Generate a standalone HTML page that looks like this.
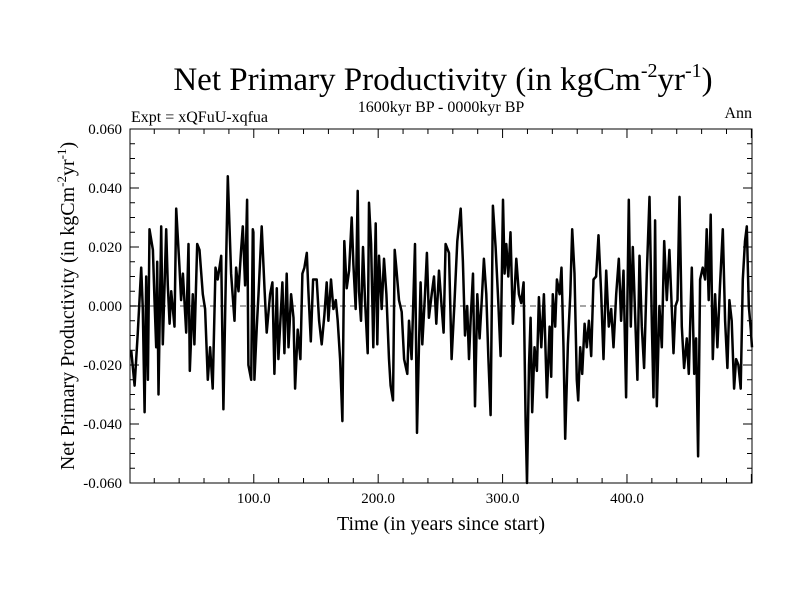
<!DOCTYPE html>
<html><head><meta charset="utf-8">
<style>
html,body{margin:0;padding:0;background:#fff;}
svg{display:block;font-family:"Liberation Serif",serif;}
</style></head>
<body>
<svg id="chart" width="800" height="600" viewBox="0 0 800 600" xmlns="http://www.w3.org/2000/svg">
  <rect width="800" height="600" fill="#fff"/>
  <text x="443" y="90" font-size="33" text-anchor="middle">Net Primary Productivity (in kgCm<tspan font-size="20" dy="-13">-2</tspan><tspan dy="13">yr</tspan><tspan font-size="20" dy="-13">-1</tspan><tspan dy="13">)</tspan></text>
  <text x="131" y="122" font-size="16">Expt = xQFuU-xqfua</text>
  <text x="441" y="112" font-size="16" text-anchor="middle">1600kyr BP - 0000kyr BP</text>
  <text x="752" y="118" font-size="16" text-anchor="end">Ann</text>
  <text transform="translate(74,306) rotate(-90)" font-size="20" text-anchor="middle">Net Primary Productivity (in kgCm<tspan font-size="13" dy="-8">-2</tspan><tspan dy="8">yr</tspan><tspan font-size="13" dy="-8">-1</tspan><tspan dy="8">)</tspan></text>
  <text x="441" y="530" font-size="20" text-anchor="middle">Time (in years since start)</text>
  <g id="axes"></g>
  <g id="series"></g>
</svg>
<script>
const years = [1.5,4.2,6.8,9.5,10.8,12.2,13.5,14.9,16.2,18.9,20.2,21.6,22.4,23.4,25.6,26.9,29.6,30.9,32.3,33.6,36.3,37.6,40.3,41.6,43,45.7,47.5,48.6,51,52.3,54.5,56.4,59,60.9,63,64.9,67,69.2,71,73.8,75.6,77.2,79.1,81.8,84.5,85.8,87.7,89.8,91.2,93,94.6,95.7,97.9,99.2,
99.7,100.5,102.4,103.8,106.4,108.6,110.4,113.1,115,116.6,118.5,119.8,123,124.6,126.5,127.9,130,131.9,133.2,135.3,137.5,139.1,140.7,142.6,143.9,145.8,147.7,150.6,152.5,154.6,156.8,158.6,160,162.1,164,165.9,167.5,169.4,171.2,172.8,174.7,176.6,178.7,180.1,181.9,183.5,184.6,186.2,187.8,189.4,191.6,192.6,194.3,196.1,198,
199.3,200.7,202.8,204.7,206.6,208.7,210,211.9,213.3,214.6,216.7,218.9,220.8,223.4,224.8,226.9,229.6,231.2,232.8,234.1,235.5,237.6,239.2,240.8,243,244.9,246.7,248.9,251,252.6,254.2,256.9,259,261.2,263.6,266.3,268.1,269.8,271.6,273,274.3,276.2,277.8,279.7,281.5,283.1,285,286.9,288.5,290.4,292.2,294.4,296.5,298.4,300.3,
301.6,303,304.6,306.4,308.3,311,313.1,315,316.9,318.5,319.6,321.2,322.5,323.8,325.7,327.6,329.2,331.1,333.2,335.6,337.8,339.1,340.4,342.3,343.7,345.8,347.4,349,350.3,352.5,354.4,356,357.8,359.7,360.8,362.4,364,365.9,367.7,369.4,371.2,373.1,375.2,377.1,379.3,381.1,383.3,385.4,387.3,389.2,391.3,393.4,395.3,397.2,399.3,401.5,
403.1,404.7,406.6,408.4,410.1,411.9,413.8,415.9,418.1,420,421.3,422.6,424,426.1,428,429.9,432,434.1,436,437.4,439,440.6,442.2,444.1,445.9,448.1,449.7,452.1,454,455.6,457.2,458.8,460.9,462.8,464.1,465.7,467.3,469,470.8,472.7,474.8,477,478.9,480.7,482.3,484.2,486.1,487.7,489.6,491.4,493.1,494.9,496.3,497.9,499.5,500.5];
const nppMilli = [-15,-27,-9,13,-1,-36,10,-25,26,19,2,-14,15,-30,27,-13,26,7,-6,5,-7,33,13,2,11,-9,21,-22,4,-13,21,19,4,-1,-25,-14,-28,13,9,17,-35,2,44,11,-5,13,5,19,27,7,36,-20,-25,26,
25,-25,-7,4,27,6,-9,4,8,-23,6,-18,8,-16,11,-14,4,-4,-28,-8,-18,11,13,18,5,-12,9,9,-5,-13,-3,8,-5,9,-1,2,-5,-18,-39,22,6,12,30,14,-1,39,5,-5,20,2,-16,35,21,-14,28,
-13,17,-1,16,4,-18,-27,-32,19,13,2,-2,-18,-23,-5,-18,21,-43,-13,8,-13,4,18,-4,4,10,-6,12,0,-9,21,18,-18,0,22,33,15,-10,0,-18,-5,11,-34,4,-11,1,16,4,-17,-37,34,20,2,-17,36,
11,21,10,25,-6,16,4,1,8,-39,-60,-20,-4,-36,-14,-22,3,-14,4,-31,-7,-24,4,-7,9,4,13,-14,-45,-13,4,26,11,-25,-32,-14,-23,-6,-14,-5,-17,9,10,24,4,-18,12,-7,-1,-14,4,16,-5,12,-31,36,
-7,20,-4,-25,17,-7,-21,11,37,-7,-31,29,-34,0,-14,22,2,19,-1,-16,0,2,37,-7,-21,-11,-23,13,-23,-11,-51,9,13,9,26,2,31,-18,4,-14,7,26,-5,-21,2,-5,-28,-18,-20,-28,9,22,27,0,-8,-14];
const yTickValues = [-0.06,-0.04,-0.02,0,0.02,0.04,0.06];
const yTickLabels = ["-0.060","-0.040","-0.020","0.000","0.020","0.040","0.060"];
const xTickValues = [100,200,300,400];
const xTickLabels = ["100.0","200.0","300.0","400.0"];

const NS = "http://www.w3.org/2000/svg";
const L = 130, R = 752, T = 129, B = 483;
const xMin = 0.5, xMax = 500.5, yMin = -0.06, yMax = 0.06;
const xs = v => L + (v - xMin) / (xMax - xMin) * (R - L);
const ys = v => B - (v - yMin) / (yMax - yMin) * (B - T);
function mk(tag, attrs, parent) {
  const e = document.createElementNS(NS, tag);
  for (const k in attrs) e.setAttribute(k, attrs[k]);
  parent.appendChild(e);
  return e;
}
const axes = document.getElementById('axes');
const series = document.getElementById('series');

const zl = mk('line', {x1: L, x2: R, y1: ys(0), y2: ys(0), stroke: '#888', 'stroke-width': 1.5, 'stroke-dasharray': '6,4'}, axes);



let d = '';
for (let i = 0; i < years.length; i++) {
  d += (i ? 'L' : 'M') + xs(years[i]).toFixed(1) + ',' + ys(nppMilli[i] / 1000).toFixed(1);
}
const line = mk('path', {d: d, fill: 'none', stroke: '#000', 'stroke-width': 2.5, 'stroke-linejoin': 'round'}, series);



const frame = mk('rect', {x: L, y: T, width: R - L, height: B - T, fill: 'none', stroke: '#000', 'stroke-width': 1}, axes);



for (let v = -0.06; v <= 0.0601; v += 0.005) {
  const major = Math.abs(Math.round(v * 1000) % 20) === 0;
  const len = major ? 9 : 5;
  const t = mk('line', {x1: L, x2: L + len, y1: ys(v), y2: ys(v), stroke: '#000', 'stroke-width': 1}, axes);
  
  
  const t2 = mk('line', {x1: R, x2: R - len, y1: ys(v), y2: ys(v), stroke: '#000', 'stroke-width': 1}, axes);
  
  
}
for (let v = 20; v <= 500; v += 20) {
  const major = v % 100 === 0;
  const len = major ? 9 : 5;
  const t = mk('line', {x1: xs(v), x2: xs(v), y1: B, y2: B - len, stroke: '#000', 'stroke-width': 1}, axes);
  
  
  const t2 = mk('line', {x1: xs(v), x2: xs(v), y1: T, y2: T + len, stroke: '#000', 'stroke-width': 1}, axes);
  
  
}
yTickValues.forEach((v, i) => {
  const t = mk('text', {x: 122, y: ys(v) + 5, 'font-size': 15, 'text-anchor': 'end'}, axes);
  t.textContent = yTickLabels[i];
  
  
});
xTickValues.forEach((v, i) => {
  const t = mk('text', {x: xs(v), y: 503, 'font-size': 15, 'text-anchor': 'middle'}, axes);
  t.textContent = xTickLabels[i];
  
  
});
</script>
</body></html>
